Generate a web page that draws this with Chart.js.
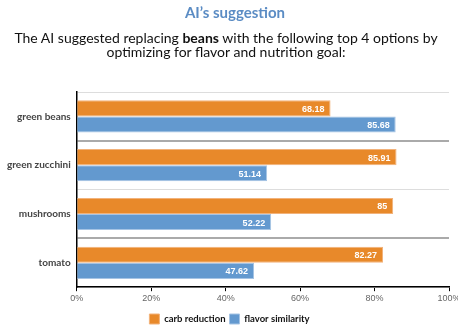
<!DOCTYPE html>
<html>
<head>
<meta charset="utf-8">
<script src="https://cdn.jsdelivr.net/npm/chart.js@4"></script>
<style>
  body { margin: 0; background: #fff; }
  #wrap { position: relative; width: 458px; height: 329px; }
  #head { position: absolute; left: 0; top: 0; width: 458px; text-align: center; font-family: Lato, sans-serif; }
  #head h1 { margin: 3px 0 0 12px; font-size: 15px; font-weight: bold; color: #5b8cc4; line-height: 18px; }
  #head p { margin: 10px 0 0 -6px; font-size: 14px; color: #111; line-height: 14px; }
  #box { position: absolute; left: 0; top: 0; width: 458px; height: 329px; }
</style>
</head>
<body>
<div id="wrap">
  <div id="box"><canvas id="graph"></canvas></div>
  <div id="head">
    <h1>AI’s suggestion</h1>
    <p>The AI suggested replacing <b>beans</b> with the following top 4 options by<br>optimizing for flavor and nutrition goal:</p>
  </div>
</div>
<script>
var categories = ['green beans', 'green zucchini', 'mushrooms', 'tomato'];
var carb_reduction = [68.18, 85.91, 85, 82.27];
var flavor_similarity = [85.68, 51.14, 52.22, 47.62];
var x_ticks = [0, 20, 40, 60, 80, 100];

// etiquettes blanches au bout des barres
var bar_labels = {
    id: 'bar_labels',
    afterDatasetsDraw(chart) {
        var ctx = chart.ctx;
        ctx.save();
        ctx.fillStyle = '#fff';
        ctx.font = 'bold 9px "Liberation Sans", Arial, sans-serif';
        ctx.textAlign = 'right';
        ctx.textBaseline = 'middle';
        chart.data.datasets.forEach((ds, i) => {
            chart.getDatasetMeta(i).data.forEach((bar, j) => {
                ctx.fillText(String(ds.data[j]), bar.x - 6, bar.y + 1);
            });
        });
        ctx.restore();
    }
};

window.onload = ()=>{
    var chart = new Chart('graph', {
        type: 'bar',
        data: {
            labels: categories,
            datasets: [
                { label: 'carb reduction', data: carb_reduction, backgroundColor: '#e8892a', borderColor: '#f2b27a', borderWidth: 1, borderSkipped: 'left' },
                { label: 'flavor similarity', data: flavor_similarity, backgroundColor: '#6399cf', borderColor: '#a6c4e4', borderWidth: 1, borderSkipped: 'left' }
            ]
        },
        options: {
            indexAxis: 'y',
            responsive: true,
            maintainAspectRatio: false,
            animation: false,
            categoryPercentage: 0.66,
            barPercentage: 1,
            layout: { padding: { top: 92, left: 1, right: 0, bottom: -5 } },
            scales: {
                x: {
                    min: 0,
                    max: 100,
                    afterBuildTicks: s => { s.ticks = x_ticks.map(v => ({ value: v })); },
                    afterFit: s => { s.paddingRight = 9; s.height += 4; },
                    grid: { drawOnChartArea: false, drawTicks: true, tickLength: 4, color: '#000' },
                    border: { color: '#000', width: 1.5 },
                    ticks: {
                        padding: 2,
                        color: '#666',
                        font: { family: '"Liberation Sans", Arial, sans-serif', size: 9 },
                        callback: v => v + '%'
                    }
                },
                y: {
                    grid: {
                        drawTicks: false,
                        color: c => (c.index % 2 == 1 ? '#aaaaaa' : '#dddddd'),
                        lineWidth: c => (c.index % 2 == 1 ? 2 : 1)
                    },
                    border: { color: '#000', width: 1.5 },
                    ticks: {
                        padding: 6,
                        color: '#444',
                        font: { family: 'Lato, sans-serif', size: 10, weight: 'bold' }
                    }
                }
            },
            plugins: {
                title: { display: false },
                tooltip: { enabled: false },
                legend: {
                    position: 'bottom',
                    labels: {
                        boxWidth: 10,
                        boxHeight: 10,
                        padding: 4,
                        color: '#111',
                        font: { family: 'Lato, sans-serif', size: 9.5, weight: 'bold' }
                    }
                }
            }
        },
        plugins: [bar_labels]
    });
};
</script>
</body>
</html>
